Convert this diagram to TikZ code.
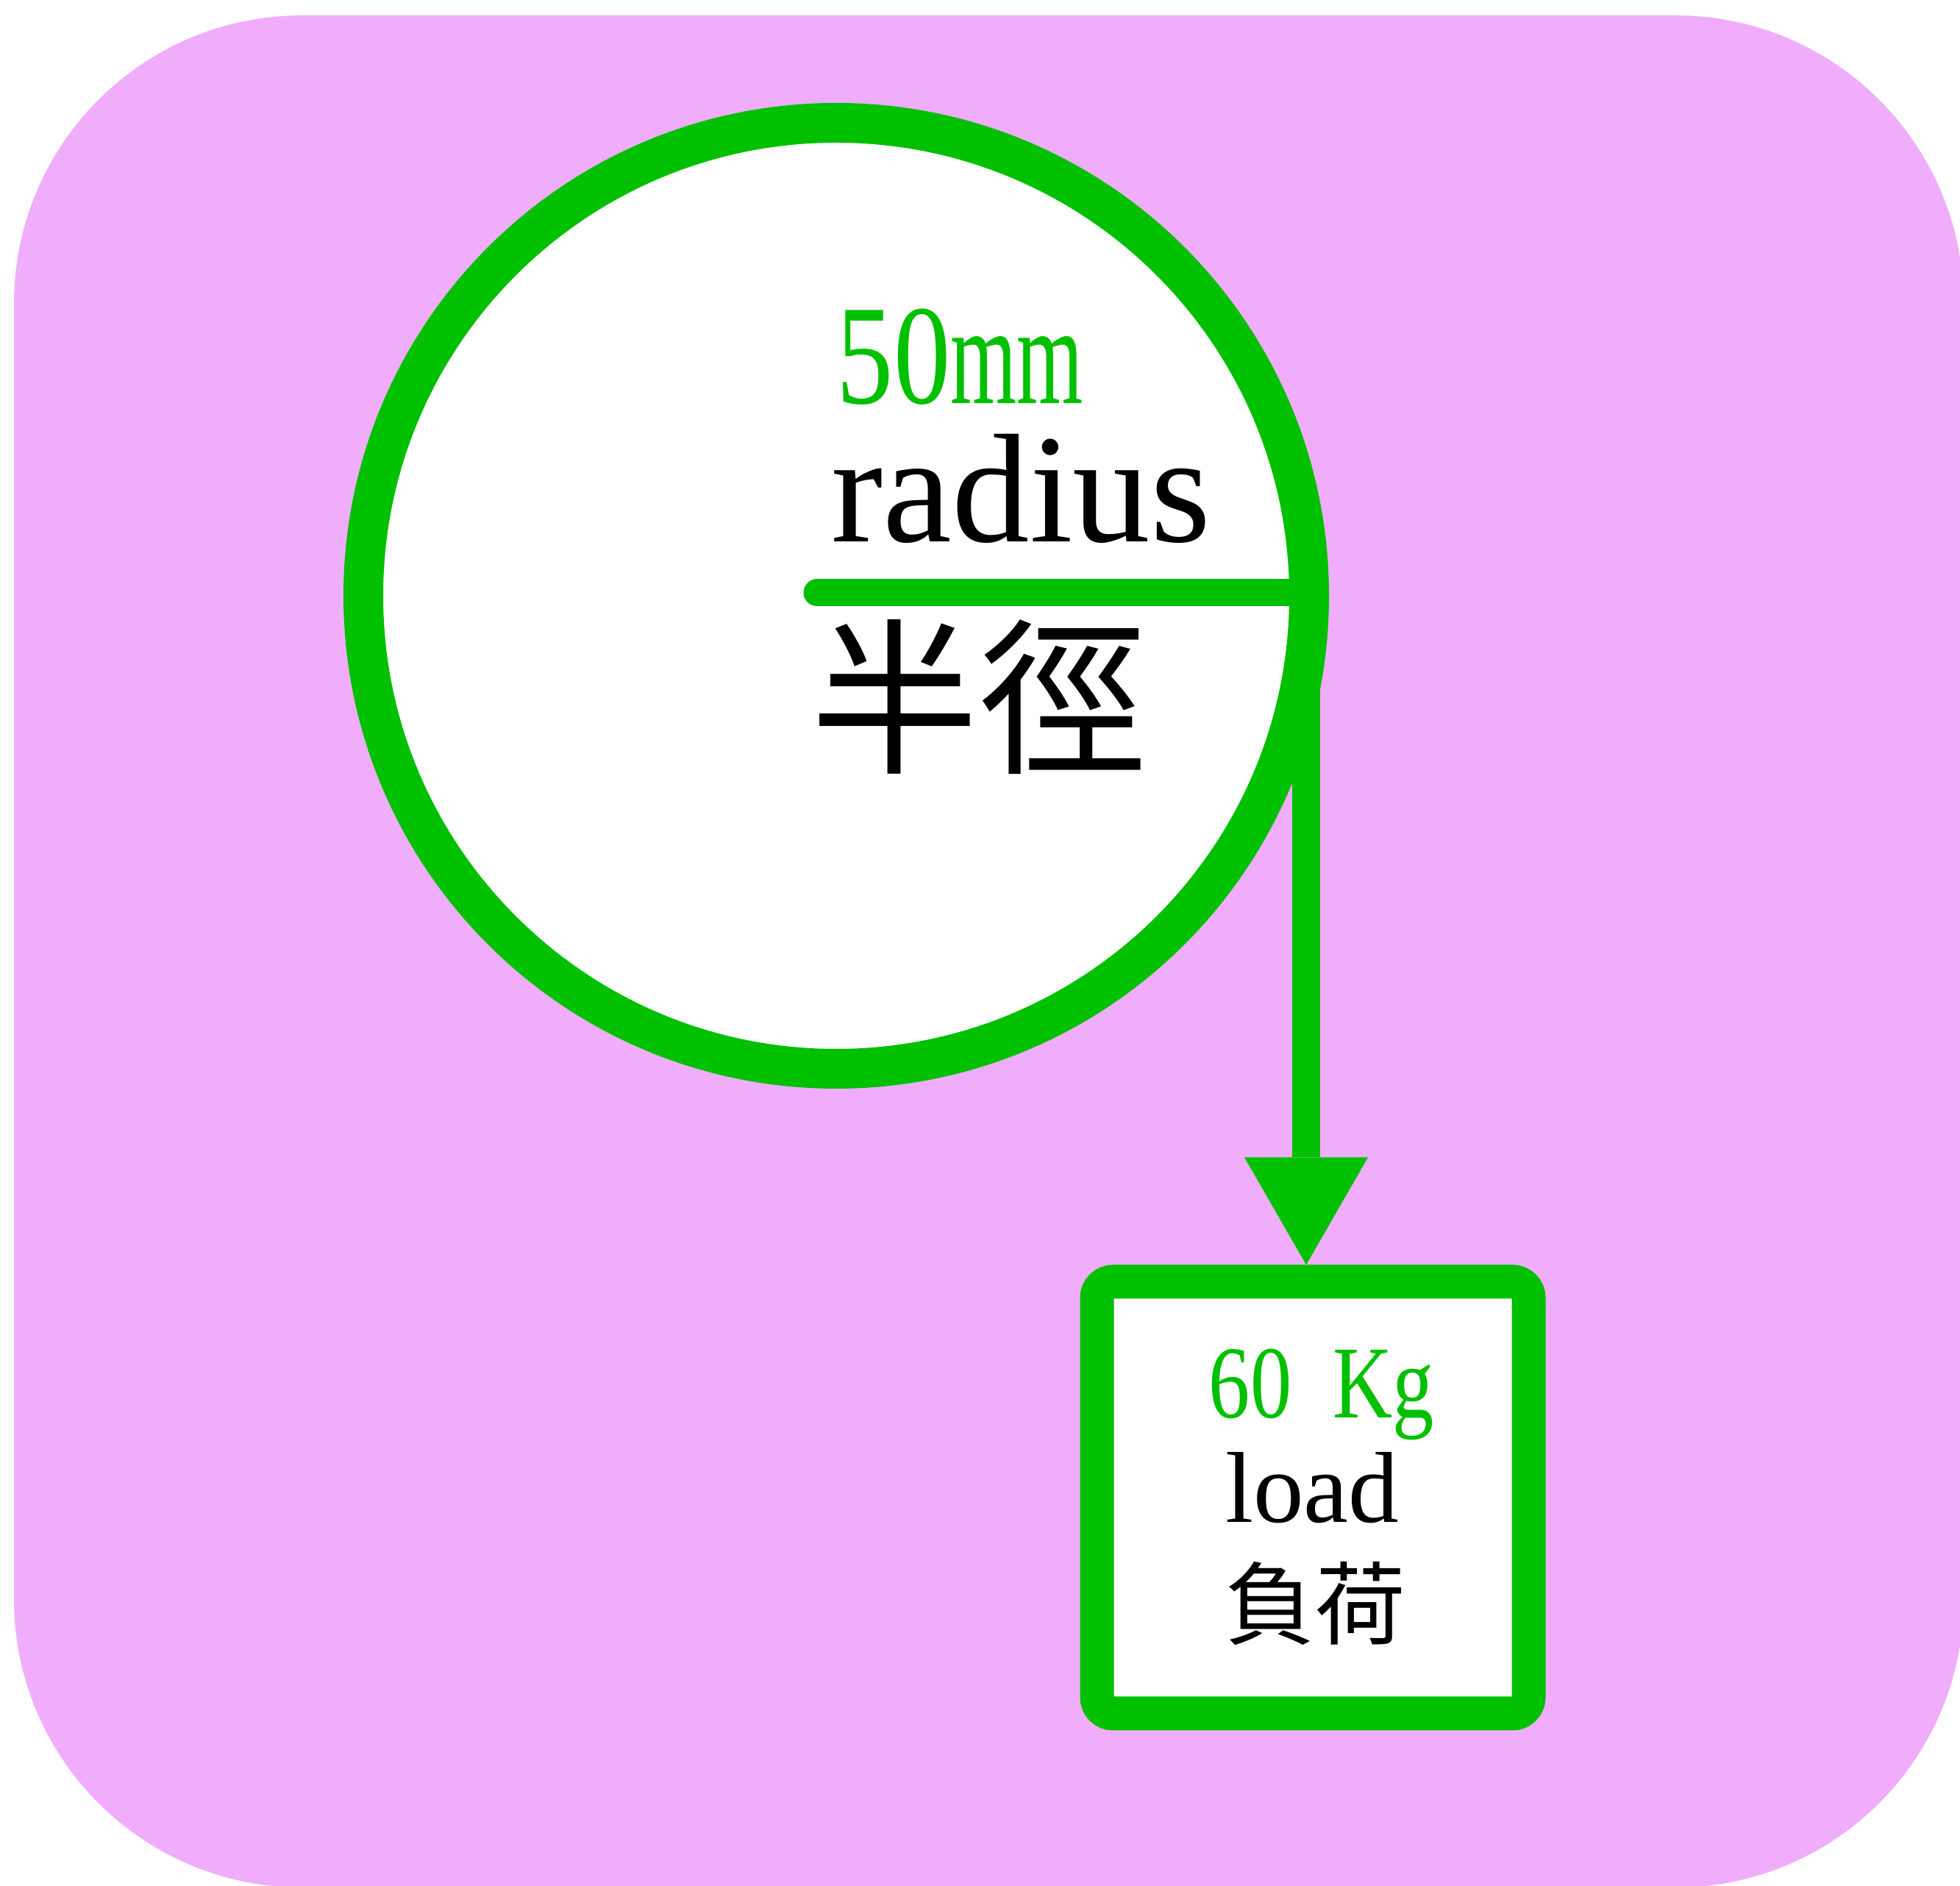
\documentclass[tikz,border=0pt]{standalone}
\usepackage{fontspec}
\setmainfont{Liberation Serif}
\newfontfamily\cjk{Noto Sans CJK TC}
\usetikzlibrary{arrows.meta}
\definecolor{bgpink}{RGB}{239,173,251}
\definecolor{ropegreen}{RGB}{0,192,0}

\begin{document}
\begin{tikzpicture}[
  wheel/.style={circle,draw=ropegreen,fill=white,line width=0.54cm,minimum size=12.86cm,inner sep=0pt,outer sep=0pt},
  weightbox/.style={rectangle,draw=ropegreen,fill=white,line width=0.46cm,minimum size=5.87cm,rounded corners=0.22cm,inner sep=0pt},
  spoke/.style={draw=ropegreen,line width=0.37cm,line cap=round},
  rope/.style={draw=ropegreen,line width=0.38cm,-{Triangle[width=1.68cm,length=1.46cm,line width=0pt]}},
  txt/.style={font=\fontsize{#1}{#1}\selectfont,inner sep=0pt},
]
\useasboundingbox (0,0) rectangle (26.65,25.64);
\fill[bgpink,rounded corners=3.92cm] (0.19,-0.02) rectangle (26.70,25.43);

% rope from the pulley down to the load
\coordinate (hook) at (17.76,17.54);
\node[weightbox] (weight) at (17.85,5.28) {};
\draw[rope] (hook) -- (hook |- weight.north);

% pulley
\node[wheel] (wheel) at (11.37,17.54) {};
\coordinate (hub) at (11.11,17.58);
\draw[spoke] (hub) -- (hub -| wheel.east);
\node[txt=55pt,text=ropegreen,anchor=base west] (size) at (11.37,20.15) {\scalebox{0.8}[1]{50}\scalebox{0.6}[1]{mm}};
\node[txt=60pt,anchor=base west] (radlabel) at (11.30,18.27) {radius};
\node[txt=65pt] (radcjk) at (13.31,16.17) {\cjk 半徑};

% load
\node[txt=40pt,text=ropegreen,anchor=base] (mass) at (17.97,6.36) {\scalebox{0.8}[1]{60\hspace{0.5em}Kg}};
\node[txt=39pt,anchor=base] (loadlabel) at (17.84,4.94) {load};
\node[txt=35pt] (loadcjk) at (17.88,3.84) {\cjk 負荷};
\end{tikzpicture}
\end{document}
